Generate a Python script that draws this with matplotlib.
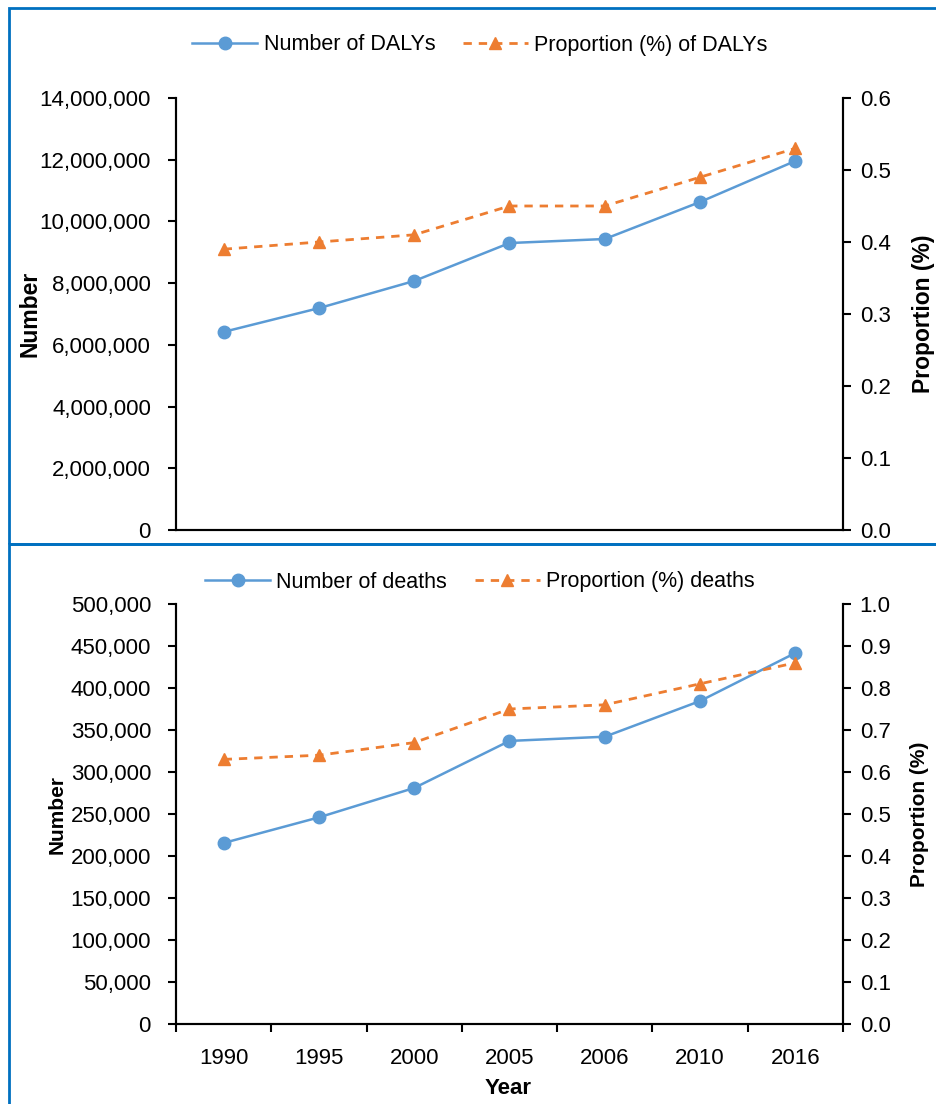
import matplotlib.pyplot as plt
from matplotlib.patches import Rectangle
from matplotlib.ticker import FuncFormatter
import numpy as np

plt.rcParams['font.family'] = ['Liberation Sans', 'DejaVu Sans']

#----------- data -----------#
years = ['1990', '1995', '2000', '2005', '2006', '2010', '2016']
dalys_num = [6420000, 7190000, 8070000, 9300000, 9430000, 10630000, 11960000]
dalys_prop = [0.39, 0.40, 0.41, 0.45, 0.45, 0.49, 0.53]
deaths_num = [215500, 246000, 281000, 337000, 342000, 384500, 441700]
deaths_prop = [0.63, 0.64, 0.67, 0.75, 0.76, 0.81, 0.86]

BLUE = '#5B9BD5'
ORANGE = '#ED7D31'
BORDER = '#0070C0'

W, H = 937, 1104
fig = plt.figure(figsize=(W / 100, H / 100), dpi=100)

# panel borders
for y0, y1 in [(8, 544), (544, 1110)]:
    fig.patches.append(Rectangle((9 / W, 1 - y1 / H), 1.0, (y1 - y0) / H,
                                 transform=fig.transFigure, fill=False,
                                 edgecolor=BORDER, linewidth=2))

x = np.arange(len(years))
comma = FuncFormatter(lambda v, p: '{:,.0f}'.format(v))
one_dec = FuncFormatter(lambda v, p: '{:.1f}'.format(v))


def make_panel(top_px, bot_px, num, prop, ymax, ystep, pmax, pstep,
               lab_num, lab_prop, legend_x, legend_y, show_x, ylab_size, lx, rx):
    ax = fig.add_axes([176 / W, 1 - bot_px / H, (843 - 176) / W, (bot_px - top_px) / H])
    ax2 = ax.twinx()
    l1, = ax.plot(x, num, color=BLUE, lw=1.8, marker='o', ms=9, label=lab_num)
    l2, = ax2.plot(x, prop, color=ORANGE, lw=2, ls=(0, (3, 2.5)), marker='^', ms=9,
                   label=lab_prop)
    ax.set_xlim(-0.5, len(years) - 0.5)
    ax.set_ylim(0, ymax)
    ax.set_yticks(np.arange(0, ymax + ystep / 2, ystep))
    ax.yaxis.set_major_formatter(comma)
    ax2.set_ylim(0, pmax)
    ax2.set_yticks(np.arange(0, pmax + pstep / 2, pstep))
    ax2.yaxis.set_major_formatter(one_dec)
    for a in (ax, ax2):
        a.spines['top'].set_visible(False)
        for s in a.spines.values():
            s.set_linewidth(1.5)
    ax.tick_params(axis='y', length=6, width=1.5, labelsize=16, pad=12)
    ax2.tick_params(axis='y', length=6, width=1.5, labelsize=16, pad=6)
    ymid = 1 - (top_px + bot_px) / 2 / H
    fig.text(lx / W, ymid, 'Number', rotation=90, ha='center', va='center',
             fontsize=ylab_size, fontweight='bold')
    fig.text(rx / W, ymid, 'Proportion (%)', rotation=90, ha='center', va='center',
             fontsize=ylab_size, fontweight='bold')
    if show_x:
        ax.set_xticks(np.arange(-0.5, len(years)), minor=False)
        ax.set_xticklabels([])
        ax.set_xticks(x, minor=True)
        ax.set_xticklabels(years, minor=True, fontsize=16)
        ax.tick_params(axis='x', which='major', length=6, width=1.5)
        ax.tick_params(axis='x', which='minor', length=0, pad=17)
        fig.text(508 / W, 1 - 1088 / H, 'Year', ha='center', va='center',
                 fontsize=16, fontweight='bold')
    else:
        ax.set_xticks([])
    fig.legend([l1, l2], [lab_num, lab_prop], loc='center',
               bbox_to_anchor=(legend_x / W, 1 - legend_y / H), ncol=2, frameon=False,
               fontsize=15.5, columnspacing=1.3, handlelength=3, handletextpad=0.3)
    return ax


make_panel(98, 530, dalys_num, dalys_prop, 14000000, 2000000, 0.6, 0.1,
           'Number of DALYs', 'Proportion (%) of DALYs', 480, 45, False, 16.5, 30, 924)
make_panel(604, 1024, deaths_num, deaths_prop, 500000, 50000, 1.0, 0.1,
           'Number of deaths', 'Proportion (%) deaths', 480, 582, True, 15, 57, 920)

fig.savefig('out.png', dpi=100)
